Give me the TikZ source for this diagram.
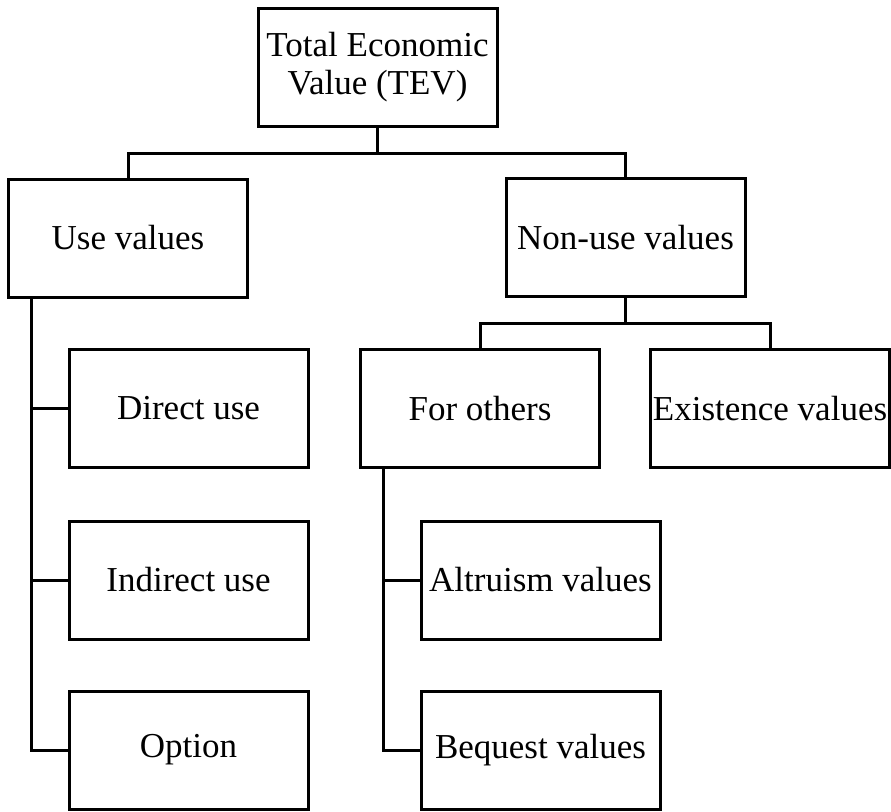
\documentclass[tikz,border=0pt]{standalone}
\usepackage{fontspec}
\setmainfont{Liberation Serif}
\begin{document}
\begin{tikzpicture}[x={(1pt,0)},y={(0,-1pt)},
  box/.style={draw,line width=3pt,rectangle,minimum width=239pt,minimum height=118pt,inner sep=0pt,align=center,font=\fontsize{35}{37.5}\selectfont},
  conn/.style={line width=3pt}]
\useasboundingbox (0,0) rectangle (891,811);
\node[box] (tev) at (377.5,67) {Total Economic\\Value (TEV)};
\node[box] (use) at (128,238) {Use values};
\node[box] (nonuse) at (625.5,237.5) {Non-use values};
\node[box] (others) at (480,408.5) {For others};
\node[box] (exist) at (770,408.5) {Existence values};
\node[box] (direct) at (188.5,408.5) {Direct use};
\node[box] (indirect) at (188.5,580) {Indirect use};
\node[box] (option) at (188.5,750) {Option};
\node[box] (altruism) at (540.5,580) {Altruism values};
\node[box] (bequest) at (540.5,750) {Bequest values};
\coordinate (j1) at (377.5,153);
\coordinate (j2) at (625.5,323);
\draw[conn] (tev.south) -- (j1);
\draw[conn] (use.north) |- (j1) -| (nonuse.north);
\draw[conn] (nonuse.south) -- (j2);
\draw[conn] (others.north) |- (j2) -| (exist.north);
\coordinate (ut) at ([xshift=24.5pt]use.south west);
\draw[conn] (ut) |- (option.west);
\draw[conn] (ut |- direct.west) -- (direct.west);
\draw[conn] (ut |- indirect.west) -- (indirect.west);
\coordinate (ot) at ([xshift=24.5pt]others.south west);
\draw[conn] (ot) |- (bequest.west);
\draw[conn] (ot |- altruism.west) -- (altruism.west);
\end{tikzpicture}
\end{document}
